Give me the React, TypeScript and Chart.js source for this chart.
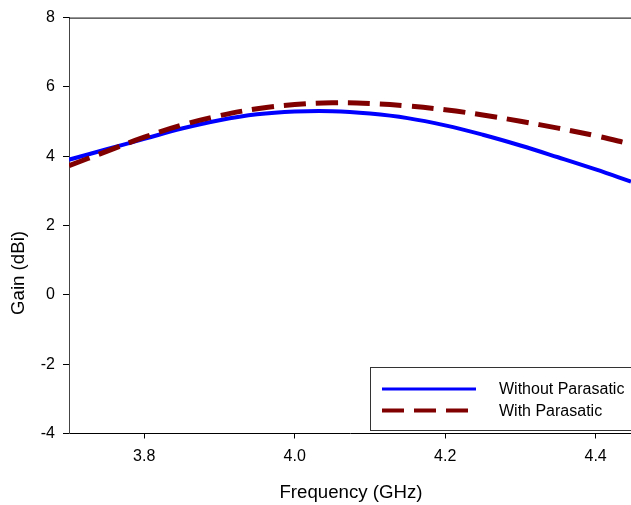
import React, { useEffect, useRef } from "react";
import { Chart, registerables } from "chart.js";

Chart.register(...registerables);

const freqGHz = [3.7, 3.75, 3.8, 3.85, 3.9, 3.95, 4.0, 4.05, 4.1, 4.15, 4.2, 4.25, 4.3, 4.35, 4.4, 4.447];
const gainWithout = [3.9, 4.2, 4.5, 4.8, 5.04, 5.21, 5.29, 5.3, 5.23, 5.1, 4.89, 4.62, 4.31, 3.97, 3.62, 3.27];
const gainWith = [3.73, 4.14, 4.55, 4.9, 5.17, 5.37, 5.49, 5.54, 5.52, 5.45, 5.34, 5.19, 5.01, 4.81, 4.59, 4.35];
const xTickValues = [3.8, 4.0, 4.2, 4.4];
const yTickValues = [-4, -2, 0, 2, 4, 6, 8];
const seriesLabels = ["Without Parasatic", "With Parasatic"];
const xTitle = "Frequency (GHz)";
const yTitle = "Gain (dBi)";

const FONT = "'Liberation Sans', Arial, sans-serif";
const BLUE = "#0000ff";
const RED = "#800000";

const decor = {
  id: "decor",
  afterDraw(chart: any) {
    const { ctx, chartArea: a } = chart;
    ctx.save();
    ctx.strokeStyle = "#000";
    ctx.lineWidth = 1;
    ctx.beginPath();
    ctx.moveTo(a.left, a.top + 0.5);
    ctx.lineTo(a.right, a.top + 0.5);
    ctx.stroke();

    ctx.fillStyle = "#fff";
    ctx.fillRect(370.5, 367.5, 300, 63);
    ctx.strokeStyle = "#333";
    ctx.lineWidth = 1;
    ctx.strokeRect(370.5, 367.5, 300, 63);

    ctx.lineCap = "butt";
    ctx.strokeStyle = BLUE;
    ctx.lineWidth = 3;
    ctx.setLineDash([]);
    ctx.beginPath();
    ctx.moveTo(382, 389);
    ctx.lineTo(476, 389);
    ctx.stroke();

    ctx.strokeStyle = RED;
    ctx.lineWidth = 4;
    ctx.setLineDash([22, 10]);
    ctx.beginPath();
    ctx.moveTo(382, 410.5);
    ctx.lineTo(476, 410.5);
    ctx.stroke();
    ctx.setLineDash([]);

    ctx.fillStyle = "#000";
    ctx.font = `16px ${FONT}`;
    ctx.textAlign = "left";
    ctx.textBaseline = "middle";
    ctx.fillText(seriesLabels[0], 499, 389.5);
    ctx.fillText(seriesLabels[1], 499, 411.5);

    ctx.font = `18.67px ${FONT}`;
    ctx.textAlign = "center";
    ctx.textBaseline = "middle";
    ctx.fillText(xTitle, 351, 493);
    ctx.save();
    ctx.translate(18.5, 273);
    ctx.rotate(-Math.PI / 2);
    ctx.fillText(yTitle, 0, 0);
    ctx.restore();

    ctx.restore();
  },
};

export default function App() {
  const ref = useRef<HTMLCanvasElement | null>(null);

  useEffect(() => {
    if (!ref.current) return;
    const chart = new Chart(ref.current, {
      type: "line",
      data: {
        datasets: [
          {
            label: seriesLabels[0],
            data: freqGHz.map((f, i) => ({ x: f, y: gainWithout[i] })),
            borderColor: BLUE,
            borderWidth: 4,
            pointRadius: 0,
            tension: 0.4,
            order: 1,
          },
          {
            label: seriesLabels[1],
            data: freqGHz.map((f, i) => ({ x: f, y: gainWith[i] })),
            borderColor: RED,
            borderWidth: 5,
            borderDash: [22, 10],
            borderCapStyle: "butt",
            pointRadius: 0,
            tension: 0.4,
            order: 0,
          },
        ],
      },
      plugins: [decor],
      options: {
        animation: false,
        responsive: false,
        devicePixelRatio: 1,
        layout: { padding: { top: 14, left: 0, right: 0, bottom: 0 } },
        plugins: {
          legend: { display: false },
          tooltip: { enabled: false },
        },
        scales: {
          x: {
            type: "linear",
            min: 3.7,
            max: 4.447,
            afterFit: (s: any) => {
              s.height = 71.5;
            },
            afterBuildTicks: (s: any) => {
              s.ticks = xTickValues.map((v) => ({ value: v }));
            },
            ticks: {
              callback: (v: any) => Number(v).toFixed(1),
              font: { family: FONT, size: 16 },
              color: "#000",
              padding: 8,
              maxRotation: 0,
            },
            grid: {
              drawOnChartArea: false,
              drawTicks: true,
              tickLength: 5,
              color: "#000",
            },
            border: { display: true, color: "#000", width: 1 },
          },
          y: {
            type: "linear",
            min: -4,
            max: 8,
            afterFit: (s: any) => {
              s.width = 69;
            },
            afterBuildTicks: (s: any) => {
              s.ticks = yTickValues.map((v) => ({ value: v }));
            },
            ticks: {
              callback: (v: any) => String(v),
              font: { family: FONT, size: 16 },
              color: "#000",
              padding: 8,
            },
            grid: {
              drawOnChartArea: false,
              drawTicks: true,
              tickLength: 6,
              color: "#000",
            },
            border: { display: true, color: "#444", width: 1 },
          },
        },
      },
    } as any);
    return () => chart.destroy();
  }, []);

  return (
    <div
      style={{
        position: "fixed",
        left: 0,
        top: 0,
        width: 631,
        height: 505,
        background: "#fff",
        overflow: "hidden",
      }}
    >
      <canvas ref={ref} width={631} height={505} style={{ display: "block" }} />
    </div>
  );
}
